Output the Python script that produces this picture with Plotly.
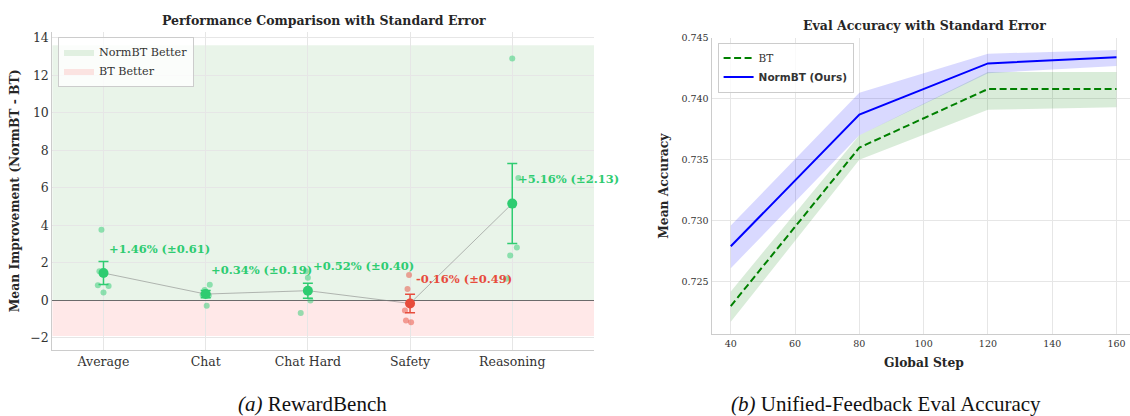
import plotly.graph_objects as go

# ---------------- Data: left panel (RewardBench) ----------------
categories = ["Average", "Chat", "Chat Hard", "Safety", "Reasoning"]
means = [1.46, 0.34, 0.52, -0.16, 5.16]
std_errors = [0.61, 0.19, 0.40, 0.49, 2.13]
run_values = [
    [3.77, 1.56, 0.81, 0.77, 0.42],
    [0.84, 0.56, 0.30, 0.26, -0.28],
    [1.56, 1.21, 0.51, 0.00, -0.67],
    [1.35, 0.61, -0.53, -1.07, -1.16],
    [12.89, 6.53, 2.82, 2.40, 1.15],
]
run_jitter = [
    [-0.02, -0.04, -0.055, 0.05, 0.0],
    [0.04, -0.01, -0.03, 0.03, 0.01],
    [-0.02, 0.0, 0.0, 0.025, -0.07],
    [-0.01, -0.025, -0.05, -0.04, 0.01],
    [0.0, 0.06, 0.045, -0.02, -0.06],
]
better_span_top = 13.6
worse_span_bottom = -1.9

# ---------------- Data: right panel (Unified-Feedback) ----------------
steps = [40, 80, 120, 160]
bt_mean = [0.7230, 0.7360, 0.7408, 0.7408]
bt_upper = [0.7242, 0.7370, 0.7422, 0.7422]
bt_lower = [0.7217, 0.7350, 0.7391, 0.7393]
nbt_mean = [0.7279, 0.7387, 0.7429, 0.7434]
nbt_upper = [0.7296, 0.7405, 0.7437, 0.7440]
nbt_lower = [0.7261, 0.7370, 0.7421, 0.7427]

GREEN = "#2ecc71"
RED = "#e74c3c"
SERIF = "DejaVu Serif"
W, H = 1130, 416
GREEN_SPAN = "rgba(0,128,0,0.085)"
RED_SPAN = "rgba(255,0,0,0.09)"

fig = go.Figure()

# ---- left: shaded regions ----
fig.add_shape(type="rect", xref="x domain", yref="y", x0=0, x1=1, y0=0, y1=better_span_top,
              fillcolor=GREEN_SPAN, line=dict(width=0), layer="below")
fig.add_shape(type="rect", xref="x domain", yref="y", x0=0, x1=1, y0=worse_span_bottom, y1=0,
              fillcolor=RED_SPAN, line=dict(width=0), layer="below")

# legend entries for the shaded regions (patch-like icons)
for nm, fc in [("NormBT Better", "rgba(0,128,0,0.10)"), ("BT Better", "rgba(255,0,0,0.10)")]:
    fig.add_trace(go.Scatter(x=[None], y=[None], mode="lines", fill="toself", fillcolor=fc,
                             line=dict(width=0, color=fc), name=nm, legend="legend",
                             xaxis="x", yaxis="y"))

# individual runs
for i, (vals, jit) in enumerate(zip(run_values, run_jitter)):
    col = GREEN if means[i] >= 0 else RED
    fig.add_trace(go.Scatter(
        x=[i + j for j in jit], y=vals, mode="markers",
        marker=dict(color=col, size=6, opacity=0.5, line=dict(width=0)),
        showlegend=False, xaxis="x", yaxis="y", hoverinfo="skip"))

# connecting line
fig.add_trace(go.Scatter(x=list(range(len(categories))), y=means, mode="lines",
                         line=dict(color="rgba(128,128,128,0.55)", width=1),
                         showlegend=False, xaxis="x", yaxis="y"))

# means with error bars + labels
for i, (m, s) in enumerate(zip(means, std_errors)):
    col = GREEN if m >= 0 else RED
    fig.add_trace(go.Scatter(
        x=[i], y=[m], mode="markers",
        marker=dict(color=col, size=10, line=dict(width=0)),
        error_y=dict(type="data", array=[s], color=col, thickness=1.5, width=5, visible=True),
        showlegend=False, xaxis="x", yaxis="y"))
    fig.add_annotation(x=i + 0.035, y=m + 1.3, xref="x", yref="y",
                       text=f"<b>{m:+.2f}% (±{s:.2f})</b>", showarrow=False,
                       xanchor="left", yanchor="middle",
                       font=dict(family=SERIF, size=11.5, color=col))

# ---- right panel ----
fig.add_trace(go.Scatter(x=steps, y=bt_lower, mode="lines", line=dict(width=0),
                         showlegend=False, xaxis="x2", yaxis="y2", hoverinfo="skip"))
fig.add_trace(go.Scatter(x=steps, y=bt_upper, mode="lines", line=dict(width=0),
                         fill="tonexty", fillcolor="rgba(0,128,0,0.15)",
                         showlegend=False, xaxis="x2", yaxis="y2", hoverinfo="skip"))
fig.add_trace(go.Scatter(x=steps, y=bt_mean, mode="lines", name="BT",
                         line=dict(color="#008000", width=2, dash="7px,3.5px"),
                         xaxis="x2", yaxis="y2", legend="legend2"))
fig.add_trace(go.Scatter(x=steps, y=nbt_lower, mode="lines", line=dict(width=0),
                         showlegend=False, xaxis="x2", yaxis="y2", hoverinfo="skip"))
fig.add_trace(go.Scatter(x=steps, y=nbt_upper, mode="lines", line=dict(width=0),
                         fill="tonexty", fillcolor="rgba(0,0,255,0.15)",
                         showlegend=False, xaxis="x2", yaxis="y2", hoverinfo="skip"))
fig.add_trace(go.Scatter(x=steps, y=nbt_mean, mode="lines",
                         name='<span style="font-family:DejaVu Sans"><b>NormBT (Ours)</b></span>',
                         line=dict(color="#0000ff", width=2),
                         xaxis="x2", yaxis="y2", legend="legend2"))

grid = "#e6e6e6"
spine = "#cccccc"

def px_x(p):
    return p / W

def px_y(p):
    return 1 - p / H

fig.update_layout(
    width=W, height=H, margin=dict(l=0, r=0, t=0, b=0),
    plot_bgcolor="white", paper_bgcolor="white",
    font=dict(family=SERIF, color="#333333"),
    xaxis=dict(domain=[px_x(52.4), px_x(594)], range=[-0.5, 4.8],
               tickvals=list(range(len(categories))), ticktext=categories,
               showgrid=True, gridcolor=grid, gridwidth=1, zeroline=False,
               showline=True, linecolor=spine, linewidth=1.2, ticks="",
               tickfont=dict(size=12.5, color="#333")),
    yaxis=dict(domain=[px_y(349), px_y(27)], range=[-2.63, 14.32],
               tickvals=[-2, 0, 2, 4, 6, 8, 10, 12, 14],
               ticktext=["\u22122", "0", "2", "4", "6", "8", "10", "12", "14"],
               showgrid=True, gridcolor=grid, gridwidth=1,
               zeroline=True, zerolinecolor="#6b6b6b", zerolinewidth=1.3,
               showline=True, linecolor=spine, linewidth=1.2, ticks="",
               tickfont=dict(size=12.5, color="#333")),
    xaxis2=dict(domain=[px_x(711.6), 1.0], range=[34.03, 164.2],
                tickvals=steps + [60, 100, 140], showgrid=True, gridcolor=grid, gridwidth=1,
                zeroline=False, showline=True, linecolor=spine, linewidth=1.2, ticks="",
                tickfont=dict(size=9.5, color="#333"), anchor="y2"),
    yaxis2=dict(domain=[px_y(333.3), px_y(33)], range=[0.72068, 0.74502],
                tickvals=[0.725, 0.730, 0.735, 0.740, 0.745], tickformat=".3f",
                showgrid=True, gridcolor=grid, gridwidth=1, zeroline=False,
                showline=True, linecolor=spine, linewidth=1.2, ticks="",
                tickfont=dict(size=9.5, color="#333"), anchor="x2"),
    legend=dict(x=px_x(58), y=px_y(32), xanchor="left", yanchor="top", traceorder="normal",
                bgcolor="rgba(255,255,255,0.8)", bordercolor="#cccccc", borderwidth=1,
                font=dict(family=SERIF, size=11.2, color="#333"), tracegroupgap=0),
    legend2=dict(x=px_x(717.6), y=px_y(38), xanchor="left", yanchor="top", traceorder="normal",
                 bgcolor="rgba(255,255,255,0.8)", bordercolor="#cccccc", borderwidth=1,
                 font=dict(family=SERIF, size=10.5, color="#333"), tracegroupgap=0),
    showlegend=True,
)

def ann(text, x, y, size, angle=0, family=SERIF, color="#262626"):
    fig.add_annotation(text=text, x=px_x(x), y=px_y(y), xref="paper", yref="paper",
                       showarrow=False, xanchor="center", yanchor="middle",
                       textangle=angle, font=dict(family=family, size=size, color=color))

ann("<b>Performance Comparison with Standard Error</b>", 323.5, 16, 12.5)
ann("<b>Eval Accuracy with Standard Error</b>", 924, 21, 12.5)
ann("<b>Mean Improvement (NormBT - BT)</b>", 14.5, 188, 12.3, angle=-90)
ann("<b>Mean Accuracy</b>", 664, 183, 12.3, angle=-90)
ann("<b>Global Step</b>", 923.8, 361.7, 12.3)
ann("<i>(a)</i> RewardBench", 312, 404, 21, family="Liberation Serif", color="#111")
ann("<i>(b)</i> Unified-Feedback Eval Accuracy", 886, 404, 21, family="Liberation Serif", color="#111")

fig.write_html("out.html", config={"displayModeBar": False},
               post_script="document.body.style.margin='0px';document.body.style.overflow='hidden';")
